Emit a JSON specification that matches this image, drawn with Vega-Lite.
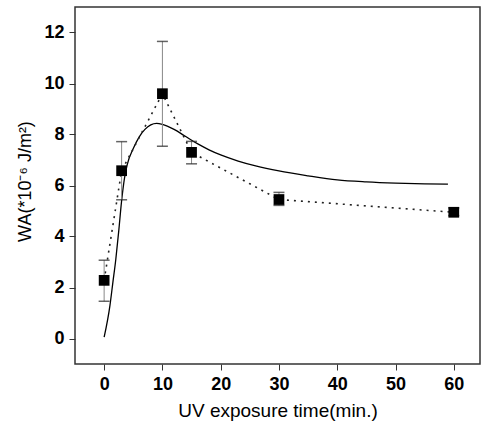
{
  "$schema": "https://vega.github.io/schema/vega-lite/v6.json",
  "width": 405,
  "height": 357,
  "autosize": {"type": "none"},
  "padding": {"left": 75, "top": 7, "right": 1, "bottom": 66},
  "background": "white",
  "config": {
    "view": {"stroke": "#333", "strokeWidth": 1.5},
    "axis": {
      "labelFont": "Liberation Sans",
      "labelFontWeight": "bold",
      "labelFontSize": 18,
      "labelColor": "black",
      "titleFont": "Liberation Sans",
      "titleFontWeight": "normal",
      "titleFontSize": 18,
      "titleColor": "black",
      "tickColor": "#333",
      "tickSize": 6,
      "domain": false,
      "grid": false
    }
  },
  "datasets": {
    "points": [
      {"t": 0, "w": 2.28, "lo": 1.46, "hi": 3.07},
      {"t": 3, "w": 6.58, "lo": 5.44, "hi": 7.72},
      {"t": 10, "w": 9.6, "lo": 7.54, "hi": 11.65},
      {"t": 15, "w": 7.3, "lo": 6.85, "hi": 7.73},
      {"t": 30, "w": 5.45, "lo": 5.22, "hi": 5.73},
      {"t": 60, "w": 4.95, "lo": 4.82, "hi": 5.12}
    ],
    "fit": [
      {"t": 0, "w": 0.05},
      {"t": 1, "w": 1.3},
      {"t": 1.5, "w": 2.2},
      {"t": 2, "w": 3.1},
      {"t": 2.5, "w": 4.2},
      {"t": 3, "w": 5.4},
      {"t": 3.5, "w": 6.3},
      {"t": 4, "w": 6.85},
      {"t": 5, "w": 7.45},
      {"t": 6, "w": 7.9},
      {"t": 7, "w": 8.2},
      {"t": 8, "w": 8.38},
      {"t": 9, "w": 8.44},
      {"t": 10, "w": 8.4},
      {"t": 12, "w": 8.2},
      {"t": 14, "w": 7.92},
      {"t": 16, "w": 7.64},
      {"t": 18, "w": 7.4},
      {"t": 20, "w": 7.2},
      {"t": 23, "w": 6.96},
      {"t": 26, "w": 6.77},
      {"t": 30, "w": 6.57},
      {"t": 35, "w": 6.38},
      {"t": 40, "w": 6.22},
      {"t": 45, "w": 6.14},
      {"t": 50, "w": 6.09},
      {"t": 55, "w": 6.06},
      {"t": 59, "w": 6.05}
    ]
  },
  "encoding": {
    "x": {
      "field": "t",
      "type": "quantitative",
      "scale": {"domain": [-5, 64.5], "nice": false, "zero": false},
      "axis": {
        "values": [0, 10, 20, 30, 40, 50, 60],
        "title": "UV exposure time(min.)",
        "titleFontSize": 19,
        "labelPadding": 5,
        "titleY": 46,
        "titleBaseline": "middle"
      }
    },
    "y": {
      "field": "w",
      "type": "quantitative",
      "scale": {"domain": [-1, 13], "nice": false, "zero": false},
      "axis": {
        "values": [0, 2, 4, 6, 8, 10, 12],
        "title": "WA(*10⁻⁶ J/m²)",
        "labelPadding": 5,
        "titleX": -50,
        "titleY": 174,
        "titleAngle": 270,
        "titleAlign": "center",
        "titleBaseline": "middle"
      }
    }
  },
  "layer": [
    {
      "data": {"name": "fit"},
      "mark": {"type": "line", "color": "black", "strokeWidth": 1.3, "interpolate": "monotone"}
    },
    {
      "data": {"name": "points"},
      "mark": {"type": "line", "color": "#222", "strokeWidth": 1.6, "strokeDash": [2, 5]}
    },
    {
      "data": {"name": "points"},
      "mark": {"type": "rule", "color": "#888", "strokeWidth": 1},
      "encoding": {"y": {"field": "lo", "type": "quantitative"}, "y2": {"field": "hi"}}
    },
    {
      "data": {"name": "points"},
      "mark": {"type": "tick", "orient": "horizontal", "color": "#222", "size": 11, "thickness": 1.5},
      "encoding": {"y": {"field": "lo", "type": "quantitative"}}
    },
    {
      "data": {"name": "points"},
      "mark": {"type": "tick", "orient": "horizontal", "color": "#222", "size": 11, "thickness": 1.5},
      "encoding": {"y": {"field": "hi", "type": "quantitative"}}
    },
    {
      "data": {"name": "points"},
      "mark": {"type": "point", "shape": "square", "filled": true, "color": "black", "size": 115, "opacity": 1}
    }
  ]
}
